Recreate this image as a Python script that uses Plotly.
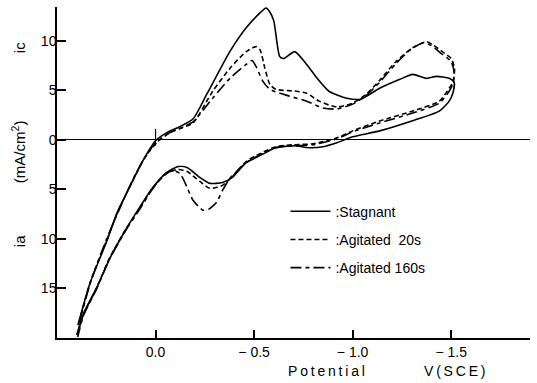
import plotly.graph_objects as go

# Potential (V vs SCE) and current density (mA/cm2; +ic cathodic, -ia anodic)
stagnant_v = [0.394, 0.333, 0.247, 0.196, 0.115, 0.064, 0.0, -0.073, -0.12, -0.19, -0.26, -0.377, -0.46,
              -0.53, -0.56, -0.58, -0.60, -0.63, -0.65, -0.706, -0.767, -0.82, -0.88, -0.97, -1.04,
              -1.137, -1.24, -1.305, -1.375, -1.425, -1.49, -1.515,
              -1.51, -1.49, -1.44, -1.30, -1.137, -1.0, -0.92, -0.85, -0.78, -0.70, -0.61, -0.53, -0.46,
              -0.39, -0.34, -0.276, -0.225, -0.16, -0.115, -0.057, 0.013, 0.08, 0.146, 0.23, 0.298, 0.365, 0.40]
stagnant_i = [-18.7, -14.5, -10.2, -7.4, -4.1, -2.1, -0.1, 0.9, 1.3, 2.1, 4.6, 8.9, 11.3,
              12.8, 13.3, 12.9, 12.0, 8.4, 8.2, 8.9, 7.6, 6.2, 4.9, 4.2, 4.1,
              5.2, 6.1, 6.6, 6.2, 6.4, 6.2, 5.8,
              4.8, 3.9, 2.9, 1.9, 0.9, 0.3, -0.3, -0.7, -0.8, -0.6, -0.8, -1.6, -2.3,
              -3.8, -4.3, -4.4, -3.8, -2.8, -2.7, -3.3, -4.8, -6.8, -8.9, -11.9, -14.9, -17.5, -19.7]

agit20_v = [0.39, 0.33, 0.245, 0.19, 0.11, 0.055, -0.01, -0.08, -0.13, -0.19, -0.29, -0.377, -0.46,
            -0.51, -0.53, -0.555, -0.58, -0.61, -0.715, -0.767, -0.83, -0.92, -1.0, -1.07,
            -1.137, -1.22, -1.305, -1.375, -1.405, -1.455, -1.50, -1.517, -1.51,
            -1.49, -1.44, -1.305, -1.137, -1.0, -0.92, -0.80, -0.70, -0.61, -0.53, -0.46, -0.39,
            -0.34, -0.276, -0.225, -0.16, -0.108, -0.05, 0.02, 0.08, 0.15, 0.235, 0.30, 0.365, 0.395]
agit20_i = [-18.5, -14.3, -10.0, -7.2, -3.9, -1.8, -0.2, 0.8, 1.2, 1.7, 4.9, 7.2, 8.9,
            9.4, 9.1, 7.2, 5.6, 5.1, 4.9, 4.7, 3.9, 3.3, 3.7, 4.6,
            6.0, 7.9, 9.3, 9.9, 9.6, 8.9, 8.2, 7.2, 5.9,
            5.2, 3.9, 2.9, 1.9, 0.9, 0.2, -0.4, -0.5, -0.7, -1.4, -2.2, -3.7,
            -4.6, -4.9, -4.2, -3.2, -3.0, -3.5, -5.0, -6.9, -9.0, -12.0, -15.0, -17.6, -19.5]

agit160_v = [0.385, 0.33, 0.25, 0.19, 0.115, 0.06, 0.0, -0.07, -0.12, -0.19, -0.29, -0.377, -0.46,
             -0.49, -0.51, -0.545, -0.58, -0.68, -0.767, -0.85, -0.92, -1.0, -1.07,
             -1.137, -1.22, -1.30, -1.36, -1.40, -1.45, -1.50, -1.515, -1.51,
             -1.49, -1.44, -1.305, -1.137, -1.0, -0.92, -0.80, -0.70, -0.61, -0.53, -0.46, -0.377,
             -0.34, -0.31, -0.27, -0.24, -0.19, -0.16, -0.124, -0.088, -0.04, 0.02, 0.08, 0.15,
             0.235, 0.30, 0.365, 0.395]
agit160_i = [-18.3, -14.4, -10.1, -7.3, -4.0, -2.0, -0.3, 0.7, 1.1, 1.8, 4.2, 6.2, 7.6,
             8.0, 7.4, 5.9, 5.1, 4.4, 3.9, 3.2, 3.1, 3.6, 4.5,
             5.8, 7.7, 9.2, 9.8, 9.5, 8.7, 7.9, 6.8, 5.7,
             4.9, 3.7, 2.7, 1.7, 0.8, 0.1, -0.5, -0.6, -0.8, -1.5, -2.3, -3.9,
             -5.1, -6.3, -7.0, -7.1, -6.1, -4.8, -3.4, -3.1, -3.6, -5.1, -7.0, -9.1,
             -12.1, -15.1, -17.7, -19.9]

x_tickvals = [0.0, -0.5, -1.0, -1.5]
x_ticktext = ["0.0", "\u2212 0.5", "\u2212 1.0", "\u2212 1.5"]
y_tickvals = [10, 5, 0, -5, -10, -15]
y_ticktext = ["10", "5", "0", "5", "10", "15"]

FONT = "Liberation Sans"

fig = go.Figure()
series = [
    (stagnant_v, stagnant_i, ":Stagnant", "solid"),
    (agit20_v, agit20_i, ":Agitated  20s", "5px,3px"),
    (agit160_v, agit160_i, ":Agitated 160s", "11px,4px,4px,4px"),
]
for i, (v, c, name, dash) in enumerate(series):
    fig.add_trace(go.Scatter(
        x=v, y=c, mode="lines", name=name, legendgroup=str(i),
        line=dict(color="black", width=1.6, dash=dash, shape="spline", smoothing=0.6),
    ))

# small vertical tick at origin
fig.add_shape(type="line", x0=0, x1=0, y0=-0.6, y1=1.1, xref="x", yref="y",
              line=dict(color="black", width=1.2))

fig.update_layout(
    width=537, height=383,
    margin=dict(l=57, r=7, t=7, b=45),
    paper_bgcolor="white", plot_bgcolor="white",
    font=dict(family=FONT, size=13, color="black"),
    showlegend=True,
    legend=dict(x=0.483, y=0.43, xanchor="left", yanchor="top", bgcolor="rgba(0,0,0,0)",
                font=dict(size=14), tracegroupgap=7, itemwidth=40),
    xaxis=dict(range=[0.5, -1.9], showline=True, linecolor="black", linewidth=1.5,
               ticks="inside", ticklen=8, tickwidth=1.5, tickcolor="black",
               tickvals=x_tickvals, ticktext=x_ticktext, showgrid=False, zeroline=False,
               tickfont=dict(size=14)),
    yaxis=dict(range=[-20, 13.4], showline=True, linecolor="black", linewidth=1.5,
               ticks="inside", ticklen=9, tickwidth=1.5, tickcolor="black",
               tickvals=y_tickvals, ticktext=y_ticktext, showgrid=False,
               zeroline=True, zerolinecolor="black", zerolinewidth=1.2,
               tickfont=dict(size=14), ticklabelstandoff=-4),
)

for txt, yy in [("ic", 0.876), ("(mA/cm<sup>2</sup>)", 0.562), ("ia", 0.293)]:
    fig.add_annotation(text=txt, x=-0.080, y=yy, xref="paper", yref="paper", showarrow=False,
                       textangle=-90, font=dict(size=15), xanchor="center", yanchor="middle")

# x-axis title pieces
fig.add_annotation(text="P o t e n t i a l".replace(" ", "\u2009"), x=0.57, y=-0.10,
                   xref="paper", yref="paper", showarrow=False, font=dict(size=14),
                   xanchor="center", yanchor="middle")
fig.add_annotation(text="V\u2009(\u2009S\u2009C\u2009E\u2009)", x=0.84, y=-0.10,
                   xref="paper", yref="paper", showarrow=False, font=dict(size=14),
                   xanchor="center", yanchor="middle")

fig.write_html("out.html")
